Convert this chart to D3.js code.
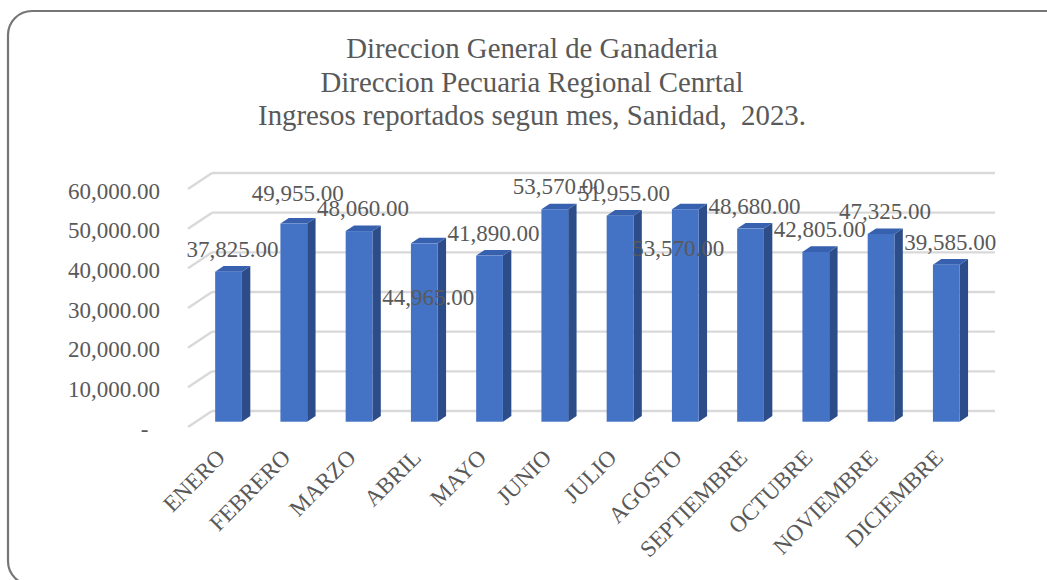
<!DOCTYPE html>
<html>
<head>
<meta charset="utf-8">
<script src="https://cdn.jsdelivr.net/npm/d3@7"></script>
<style>
  html, body { margin: 0; padding: 0; background: #fff; }
  svg { display: block; }
  text { font-family: "Liberation Serif", "Times New Roman", serif; fill: #595959; }
</style>
</head>
<body>
<svg id="chart" width="1047" height="580"></svg>
<script>
// ---- data ----
const months = ["ENERO","FEBRERO","MARZO","ABRIL","MAYO","JUNIO","JULIO","AGOSTO","SEPTIEMBRE","OCTUBRE","NOVIEMBRE","DICIEMBRE"];
const ingresos = [37825, 49955, 48060, 44965, 41890, 53570, 51955, 53570, 48680, 42805, 47325, 39585];
const yTicks = [0, 10000, 20000, 30000, 40000, 50000, 60000];
const titleLines = ["Direccion General de Ganaderia", "Direccion Pecuaria Regional Cenrtal", "Ingresos reportados segun mes, Sanidad,  2023."];

// label placement nudges (layout only), index -> [dx, dy]
const labelNudge = {1: [0, -8], 3: [0, 77], 7: [-11, 62]};

// ---- layout ----
const svg = d3.select("#chart");
const DX = 24, DY = -16;          // full floor depth projection
const zFront = 0.33, zDepth = 0.35;

svg.append("rect")
  .attr("x", 8).attr("y", 11).attr("width", 1065).attr("height", 574)
  .attr("rx", 24).attr("ry", 24)
  .attr("fill", "#fff").attr("stroke", "#767676").attr("stroke-width", 2.2);

const x = d3.scaleBand().domain(months).range([188, 971]).paddingInner(0.59).paddingOuter(0.295);
const y = d3.scaleLinear().domain([0, 60000]).range([427, 189]);

// title
const title = svg.append("text").attr("text-anchor", "middle").style("font-size", "28.8px").style("white-space", "pre");
titleLines.forEach((t, i) => {
  title.append("tspan").attr("x", 532).attr("y", 58 + i * 33.5).text(t);
});

// gridlines (back wall + left side wall)
const grid = svg.append("g").attr("fill", "none").attr("stroke", "#d9d9d9").attr("stroke-width", 2.4);
yTicks.forEach(t => {
  grid.append("line")
    .attr("x1", 188 + DX).attr("y1", y(t) + DY)
    .attr("x2", 971 + DX).attr("y2", y(t) + DY);
  grid.append("line")
    .attr("x1", 188).attr("y1", y(t))
    .attr("x2", 188 + DX).attr("y2", y(t) + DY);
});

// y axis labels
const fmt = d3.format(",.2f");
const yAxis = svg.append("g").attr("transform", "translate(160,0)")
  .call(d3.axisLeft(y).tickValues(yTicks).tickSize(0).tickPadding(0)
    .tickFormat(d => d === 0 ? "-\u00a0\u00a0" : fmt(d)));
yAxis.select(".domain").remove();
yAxis.selectAll("text")
  .attr("dy", "9px")
  .style("font-size", "23px")
  .style("font-family", "'Liberation Serif', 'Times New Roman', serif")
  .attr("fill", "#595959");

// bars (3D boxes)
const bw = x.bandwidth();
const bars = svg.append("g");
months.forEach((m, i) => {
  const v = ingresos[i];
  const x0 = x(m) + zFront * DX;
  const x1 = x0 + bw;
  const yb = y(0) + zFront * DY;
  const yt = y(v) + zFront * DY;
  const ddx = zDepth * DX, ddy = zDepth * DY;
  // side
  bars.append("path")
    .attr("d", `M${x1},${yb} L${x1 + ddx},${yb + ddy} L${x1 + ddx},${yt + ddy} L${x1},${yt} Z`)
    .attr("fill", "#2c4d8a");
  // top
  bars.append("path")
    .attr("d", `M${x0},${yt} L${x0 + ddx},${yt + ddy} L${x1 + ddx},${yt + ddy} L${x1},${yt} Z`)
    .attr("fill", "#3761ae");
  // front
  bars.append("rect")
    .attr("x", x0).attr("y", yt).attr("width", bw).attr("height", yb - yt)
    .attr("fill", "#4472c4");
});

// data labels
const labels = svg.append("g");
months.forEach((m, i) => {
  const v = ingresos[i];
  const n = labelNudge[i] || [0, 0];
  labels.append("text")
    .attr("text-anchor", "middle")
    .attr("x", x(m) + zFront * DX + bw / 2 + 4 + n[0])
    .attr("y", y(v) + zFront * DY - 15 + n[1])
    .style("font-size", "23px")
    .text(fmt(v));
});

// x axis labels
const xAxis = svg.append("g").attr("transform", "translate(6,459)")
  .call(d3.axisBottom(x).tickSize(0).tickPadding(0));
xAxis.select(".domain").remove();
xAxis.selectAll("text")
  .attr("text-anchor", "end")
  .attr("dy", "0")
  .attr("y", 0)
  .attr("transform", "rotate(-45)")
  .style("font-size", "23px")
  .style("font-family", "'Liberation Serif', 'Times New Roman', serif")
  .attr("fill", "#595959");
</script>
</body>
</html>
